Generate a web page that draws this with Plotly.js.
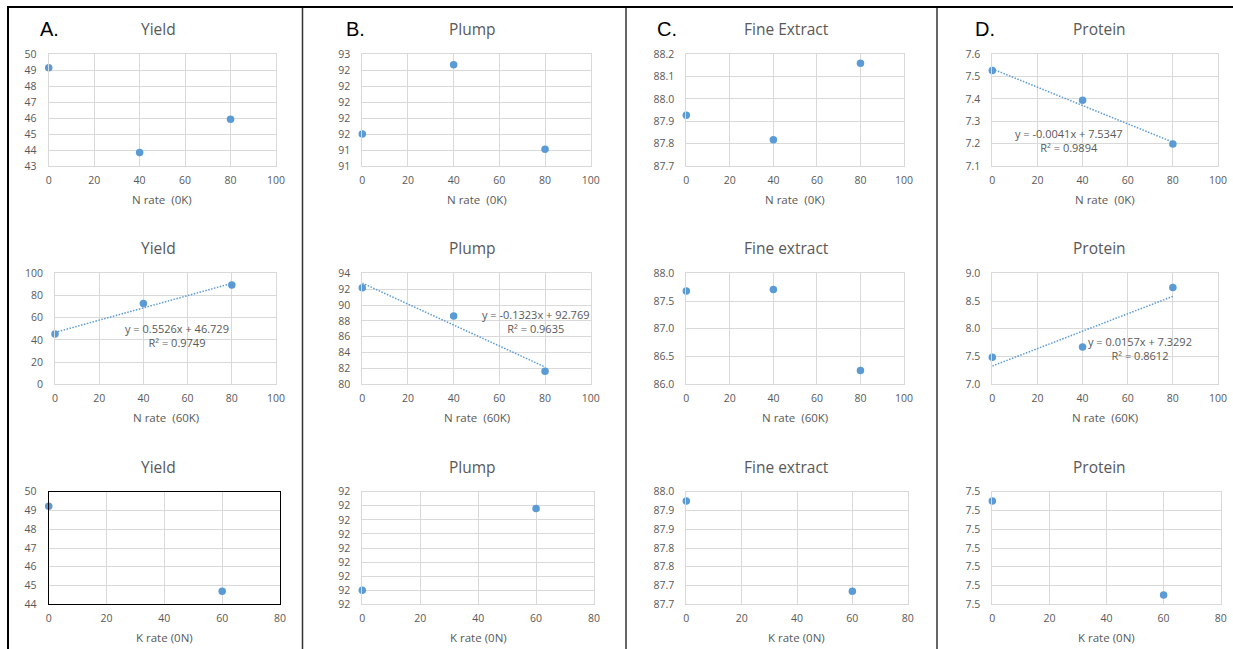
<!DOCTYPE html>
<html><head><meta charset="utf-8">
<script src="https://cdn.plot.ly/plotly-3.0.1.min.js"></script>
<style>html,body{margin:0;padding:0;background:#fff}#chart{width:1233px;height:649px}</style>
</head><body><div id="chart"></div>
<script>
// ---------- data ----------
const nRates = [0, 40, 80];
const kRates = [0, 60];

const yield0K   = [49.16, 43.84, 45.93];
const plump0K   = [91.6, 92.47, 91.41];
const fine0K    = [87.927, 87.818, 88.16];
const protein0K = [7.528, 7.394, 7.199];

const yield60K   = [45.4, 72.7, 89.5];
const plump60K   = [92.19, 88.62, 81.64];
const fine60K    = [87.68, 87.71, 86.25];
const protein60K = [7.487, 7.673, 8.742];

const yield0N   = [49.22, 44.69];
const plump0N   = [91.6, 92.18];
const fine0N    = [87.975, 87.735];
const protein0N = [7.535, 7.485];

// trendline coefficients [slope, intercept] and labels
const trendProtein0K = [-0.0041, 7.5347];
const trendYield60K  = [0.5526, 46.729];
const trendPlump60K  = [-0.1323, 92.769];
const trendProtein60K = [0.0157, 7.3292];
const labelProtein0K  = ["y = -0.0041x + 7.5347", "R² = 0.9894"];
const labelYield60K   = ["y = 0.5526x + 46.729", "R² = 0.9749"];
const labelPlump60K   = ["y = -0.1323x + 92.769", "R² = 0.9635"];
const labelProtein60K = ["y = 0.0157x + 7.3292", "R² = 0.8612"];

// tick labels
const plump0NTickVals = [91.5, 91.6, 91.7, 91.8, 91.9, 92.0, 92.1, 92.2, 92.3];
const plump0NTickText = ["92","92","92","92","92","92","92","92","92"];
const fine0NTickVals = [87.7, 87.75, 87.8, 87.85, 87.9, 87.95, 88.0];
const fine0NTickText = ["87.7","87.7","87.8","87.8","87.9","87.9","88.0"];
const protein0NTickVals = [7.48, 7.49, 7.50, 7.51, 7.52, 7.53, 7.54];
const protein0NTickText = ["7.5","7.5","7.5","7.5","7.5","7.5","7.5"];

const panelLetters = ["A.", "B.", "C.", "D."];
const titlesRow1 = ["Yield", "Plump", "Fine Extract", "Protein"];
const titlesRow2 = ["Yield", "Plump", "Fine extract", "Protein"];
const titlesRow3 = ["Yield", "Plump", "Fine extract", "Protein"];
const xTitles = ["N rate  (0K)", "N rate  (60K)", "K rate (0N)"];

// ---------- layout helpers ----------
const W = 1233, H = 649;
const FONT = "Open Sans, Noto Sans, sans-serif";
const GREY = "#595959";
const BLUE = "#5b9bd5";
const colX = [[48.7, 276], [362.3, 590.7], [686.3, 904], [992.3, 1218]];
const colX3 = [[48.7, 280], [362.3, 594], [686.3, 907.7], [992.3, 1220.7]];
const colX2 = [[55, 276], [362.3, 590.7], [686.3, 904], [992.3, 1218]];
const rowY = [[54.3, 166], [273.3, 384.3], [491.7, 604.3]];
const titleY = [29, 248, 467];
const titleX = [158, 472, 786, 1099];

const panels = [
  {row:0,col:0,x:nRates,y:yield0K,yr:[43,50],dt:1,fmt:""},
  {row:0,col:1,x:nRates,y:plump0K,yr:[91.2,92.6],dt:0.2,fmt:".0f"},
  {row:0,col:2,x:nRates,y:fine0K,yr:[87.7,88.2],dt:0.1,fmt:".1f"},
  {row:0,col:3,x:nRates,y:protein0K,yr:[7.1,7.6],dt:0.1,fmt:".1f",trend:trendProtein0K,label:labelProtein0K,lp:[1069,140.7]},
  {row:1,col:0,x:nRates,y:yield60K,yr:[0,100],dt:20,fmt:"",trend:trendYield60K,label:labelYield60K,lp:[177,335.5]},
  {row:1,col:1,x:nRates,y:plump60K,yr:[80,94],dt:2,fmt:"",trend:trendPlump60K,label:labelPlump60K,lp:[536,321.3]},
  {row:1,col:2,x:nRates,y:fine60K,yr:[86,88],dt:0.5,fmt:".1f"},
  {row:1,col:3,x:nRates,y:protein60K,yr:[7,9],dt:0.5,fmt:".1f",trend:trendProtein60K,label:labelProtein60K,lp:[1140,348.3]},
  {row:2,col:0,x:kRates,y:yield0N,yr:[44,50],dt:1,fmt:"",box:true},
  {row:2,col:1,x:kRates,y:plump0N,yr:[91.5,92.3],tv:plump0NTickVals,tt:plump0NTickText},
  {row:2,col:2,x:kRates,y:fine0N,yr:[87.7,88.0],tv:fine0NTickVals,tt:fine0NTickText},
  {row:2,col:3,x:kRates,y:protein0N,yr:[7.48,7.54],tv:protein0NTickVals,tt:protein0NTickText}
];

const data = [];
const layout = {
  width: W, height: H, margin:{l:0,r:0,t:0,b:0},
  paper_bgcolor:"#fff", plot_bgcolor:"#fff", showlegend:false,
  annotations: [], shapes: []
};
const tickFont = {family: FONT, size: 10.5, color: GREY};

panels.forEach((p, i) => {
  const n = i + 1;
  const xs = n === 1 ? "" : String(n);
  const xr = p.row === 2 ? colX3[p.col] : (p.row === 1 ? colX2[p.col] : colX[p.col]);
  const yr = rowY[p.row];
  const lineColor = p.box ? "#000000" : "#d9d9d9";
  layout["xaxis" + xs] = {
    domain: [xr[0] / W, xr[1] / W], anchor: "y" + xs,
    range: p.row === 2 ? [0, 80] : [0, 100], dtick: 20, tick0: 0,
    showgrid: true, gridcolor: "#d9d9d9", gridwidth: 1, zeroline: false,
    showline: true, linecolor: lineColor, linewidth: 1, mirror: true,
    ticks: "", ticklabelstandoff: 4, tickfont: tickFont, fixedrange: true
  };
  const ya = {
    domain: [1 - yr[1] / H, 1 - yr[0] / H], anchor: "x" + xs,
    range: p.yr,
    showgrid: true, gridcolor: "#d9d9d9", gridwidth: 1, zeroline: false,
    showline: true, linecolor: lineColor, linewidth: 1, mirror: true,
    ticks: "", ticklabelstandoff: 9, tickfont: tickFont, fixedrange: true
  };
  if (p.tv) { ya.tickmode = "array"; ya.tickvals = p.tv; ya.ticktext = p.tt; }
  else { ya.dtick = p.dt; ya.tick0 = 0; if (p.fmt) ya.tickformat = p.fmt; }
  layout["yaxis" + xs] = ya;

  if (p.trend) {
    const tx = [p.x[0], p.x[p.x.length - 1]];
    data.push({
      type: "scatter", mode: "lines", x: tx,
      y: tx.map(v => p.trend[0] * v + p.trend[1]),
      xaxis: "x" + xs, yaxis: "y" + xs,
      line: {color: BLUE, width: 1.5, dash: "1.5px,1.5px"}, hoverinfo: "skip", cliponaxis: false
    });
    layout.annotations.push({
      xref: "paper", yref: "paper", x: p.lp[0] / W, y: 1 - p.lp[1] / H,
      xanchor: "center", yanchor: "middle", showarrow: false, align: "center",
      text: p.label.join("<br>"), font: {family: FONT, size: 11, color: GREY}
    });
  }
  data.push({
    type: "scatter", mode: "markers", x: p.x, y: p.y,
    xaxis: "x" + xs, yaxis: "y" + xs, cliponaxis: false,
    marker: {color: BLUE, size: 7.5}
  });

  const titles = [titlesRow1, titlesRow2, titlesRow3][p.row];
  layout.annotations.push({
    xref: "paper", yref: "paper", x: titleX[p.col] / W, y: 1 - titleY[p.row] / H,
    xanchor: "center", yanchor: "middle", showarrow: false,
    text: titles[p.col], font: {family: FONT, size: 15.5, color: GREY}
  });
  const axTitleY = [199, 418, 637][p.row];
  layout.annotations.push({
    xref: "paper", yref: "paper", x: ((xr[0] + xr[1]) / 2) / W, y: 1 - axTitleY / H,
    xanchor: "center", yanchor: "middle", showarrow: false,
    text: xTitles[p.row].replace(/  /g, "&nbsp; "), font: {family: FONT, size: 11.5, color: GREY}
  });
});

// panel letters
const letterX = [49, 355, 667, 985];
panelLetters.forEach((t, i) => {
  layout.annotations.push({
    xref: "paper", yref: "paper", x: letterX[i] / W, y: 1 - 29 / H,
    xanchor: "center", yanchor: "middle", showarrow: false,
    text: t, font: {family: "Liberation Sans, Arial, sans-serif", size: 20, color: "#000"}
  });
});

// frame lines
const px = v => v / W, py = v => 1 - v / H;
layout.shapes.push({type:"line", xref:"paper", yref:"paper", x0:px(7), x1:px(1233), y0:py(7), y1:py(7), line:{color:"#000", width:2}});
layout.shapes.push({type:"line", xref:"paper", yref:"paper", x0:px(8), x1:px(8), y0:py(6), y1:py(649), line:{color:"#000", width:2}});
[302.5, 626, 937].forEach(x => {
  layout.shapes.push({type:"line", xref:"paper", yref:"paper", x0:px(x), x1:px(x), y0:py(8), y1:py(649), line:{color:"#333", width:1.5}});
});

Plotly.newPlot("chart", data, layout, {staticPlot: true, displayModeBar: false});
</script></body></html>
